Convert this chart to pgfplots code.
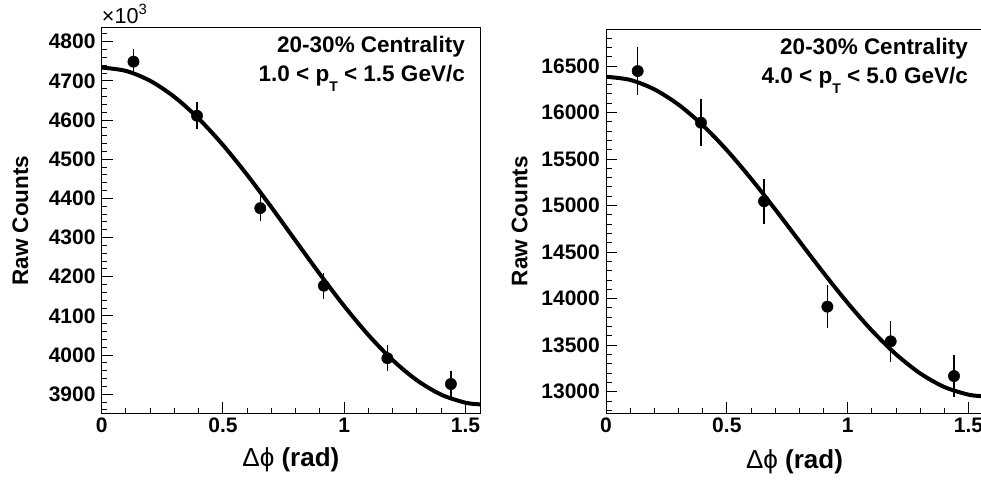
\documentclass[border=0pt]{standalone}
\usepackage{fontspec}
\setmainfont{Liberation Sans}
\usepackage{pgfplots}
\pgfplotsset{compat=1.18}
\newcommand{\pT}{p\raisebox{-10pt}{\fontsize{14}{14}\selectfont T}}
\begin{document}
\begin{tikzpicture}
\pgfplotsset{
 rootstyle/.style={
  scale only axis,
  anchor=south west,
  clip mode=individual,
  axis line style={line width=1pt},
  tick align=inside,
  xtick pos=bottom, ytick pos=left,
  major tick length=11pt, minor tick length=5.5pt,
  every tick/.style={line width=1pt, black},
  xmin=0, xmax=1.56,
  xtick={0,0.5,1,1.5},
  minor xtick={0.1,0.2,0.3,0.4,0.6,0.7,0.8,0.9,1.1,1.2,1.3,1.4},
  scaled x ticks=false, scaled y ticks=false,
  /pgf/number format/assume math mode=true,
  /pgf/number format/1000 sep={},
  tick label style={font=\fontsize{21}{21}\selectfont\bfseries},
  xticklabel style={inner sep=0pt, yshift=-5pt},
  yticklabel style={inner sep=0pt, xshift=-6pt},
  xlabel={{\mdseries Δϕ} (rad)},
  ylabel={Raw Counts},
  xlabel style={font=\fontsize{26}{26}\selectfont\bfseries, anchor=base, inner sep=0pt},
  ylabel style={font=\fontsize{22.5}{22.5}\selectfont\bfseries, anchor=base, inner sep=0pt},
 },
 fitline/.style={black, line width=4pt, smooth, no marks},
 datapts/.style={black, only marks, mark=*, mark size=5.7pt,
   error bars/.cd, y dir=both, y explicit, error mark=none,
   error bar style={line width=1.2pt, black}},
}
% ---------------- left panel ----------------
\begin{axis}[rootstyle, name=L,
  at={(101.7pt,67pt)}, width=378.3pt, height=385pt,
  ymin=3852, ymax=4835,
  ytick={3900,4000,4100,4200,4300,4400,4500,4600,4700,4800},
  minor ytick={3860,3880,3920,3940,3960,3980,4020,4040,4060,4080,4120,4140,4160,4180,4220,4240,4260,4280,4320,4340,4360,4380,4420,4440,4460,4480,4520,4540,4560,4580,4620,4640,4660,4680,4720,4740,4760,4780,4820},
  xlabel style={at={(axis description cs:0.5,-0.1395)}},
  ylabel style={at={(axis description cs:-0.1948,0.5)}},
]
\addplot[fitline] coordinates {
 (0,4734) (0.1,4725.4) (0.2,4700.1) (0.3,4658.9) (0.4,4603.6) (0.5,4536.3)
 (0.6,4459.8) (0.7,4377.1) (0.8,4291.4) (0.9,4206.3) (1.0,4125.1) (1.1,4050.9)
 (1.2,3986.9) (1.3,3935.5) (1.4,3898.8) (1.5,3878.3) (1.56,3874.1)
};
\addplot[datapts] coordinates {
 (0.131,4749) +- (0,32)
 (0.393,4611) +- (0,35)
 (0.654,4375) +- (0,34)
 (0.916,4177) +- (0,33)
 (1.178,3992) +- (0,34)
 (1.440,3926) +- (0,32)
};
\node[anchor=base east, inner sep=0pt, font=\fontsize{22.5}{22.5}\selectfont\bfseries]
  at (rel axis cs:1,1) [xshift=-15pt, yshift=-25pt] {20-30\% Centrality};
\node[anchor=base east, inner sep=0pt, font=\fontsize{22.5}{22.5}\selectfont\bfseries]
  at (rel axis cs:1,1) [xshift=-15pt, yshift=-54pt] {1.0 < \pT{} < 1.5 GeV/c};
\end{axis}
\node[anchor=base west, inner sep=0pt, scale=1.35]
  at ([yshift=4pt]L.north west) {\fontsize{16}{16}\selectfont ×10\raisebox{7pt}{\fontsize{11}{11}\selectfont 3}};
% ---------------- right panel ----------------
\begin{axis}[rootstyle,
  at={(606pt,67pt)}, width=377pt, height=384pt,
  ymin=12771, ymax=16898,
  ytick={13000,13500,14000,14500,15000,15500,16000,16500},
  minor ytick={12800,12900,13100,13200,13300,13400,13600,13700,13800,13900,14100,14200,14300,14400,14600,14700,14800,14900,15100,15200,15300,15400,15600,15700,15800,15900,16100,16200,16300,16400,16600,16700,16800},
  xlabel style={at={(axis description cs:0.5,-0.144)}},
  ylabel style={at={(axis description cs:-0.2088,0.5)}},
]
\addplot[fitline] coordinates {
 (0,16385) (0.1,16350.8) (0.2,16249.5) (0.3,16085.1) (0.4,15864.3) (0.5,15595.7)
 (0.6,15290.2) (0.7,14959.8) (0.8,14617.9) (0.9,14277.9) (1.0,13953.5) (1.1,13657.5)
 (1.2,13401.9) (1.3,13196.7) (1.4,13050.2) (1.5,12968.2) (1.56,12951)
};
\addplot[datapts] coordinates {
 (0.131,16446) +- (0,255)
 (0.393,15891) +- (0,250)
 (0.654,15046) +- (0,242)
 (0.916,13914) +- (0,228)
 (1.178,13541) +- (0,224)
 (1.440,13168) +- (0,222)
};
\node[anchor=base east, inner sep=0pt, font=\fontsize{22.5}{22.5}\selectfont\bfseries]
  at (rel axis cs:1,1) [xshift=-15pt, yshift=-25pt] {20-30\% Centrality};
\node[anchor=base east, inner sep=0pt, font=\fontsize{22.5}{22.5}\selectfont\bfseries]
  at (rel axis cs:1,1) [xshift=-15pt, yshift=-54pt] {4.0 < \pT{} < 5.0 GeV/c};
\end{axis}
\pgfresetboundingbox
\useasboundingbox (0,0) rectangle (981pt,480pt);
\end{tikzpicture}
\end{document}
